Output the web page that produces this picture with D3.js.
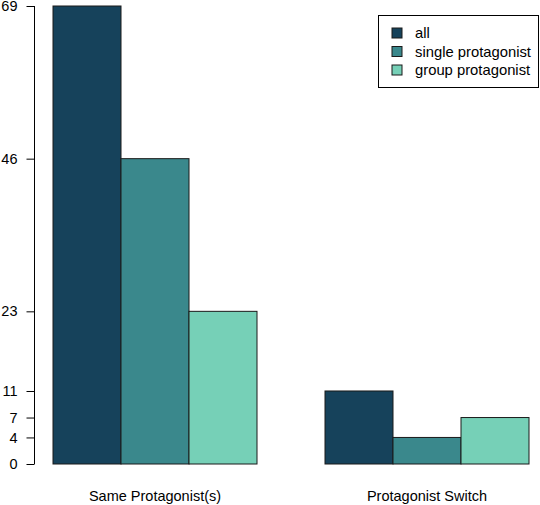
<!DOCTYPE html>
<html><head><meta charset="utf-8">
<script src="https://cdn.jsdelivr.net/npm/d3@7"></script>
<style>body{margin:0;background:#fff}svg{display:block}text{font-family:"Liberation Sans",Arial,sans-serif}</style>
</head><body>
<script>
const categories = ["Same Protagonist(s)", "Protagonist Switch"];
const series = ["all", "single protagonist", "group protagonist"];
const allValues = [69, 11];
const singleValues = [46, 4];
const groupValues = [23, 7];
const yTicks = [0, 4, 7, 11, 23, 46, 69];
const colors = ["#16425b", "#3a888c", "#76d0b7"];

const W = 540, H = 505;
const FS = 14.5;
const svg = d3.select("body").append("svg").attr("width", W).attr("height", H);
const y = d3.scaleLinear().domain([0, 69]).range([464, 6]);
const x = d3.scaleLinear().domain([0, 1]).range([53, 121]);
const valuesBySeries = [allValues, singleValues, groupValues];

categories.forEach((c, gi) => {
  const start = gi * 4;
  valuesBySeries.forEach((vals, si) => {
    svg.append("rect")
      .attr("x", x(start + si)).attr("y", y(vals[gi]))
      .attr("width", x(start + si + 1) - x(start + si))
      .attr("height", y(0) - y(vals[gi]))
      .attr("fill", colors[si]).attr("stroke", "#1a1a1a").attr("stroke-width", 1);
  });
  svg.append("text").attr("x", x(start + 1.5)).attr("y", 501)
    .attr("text-anchor", "middle").attr("font-size", FS).attr("fill", "#000").text(c);
});

const axis = d3.axisLeft(y).tickValues(yTicks).tickSize(8).tickPadding(9).tickSizeOuter(0);
const g = svg.append("g").attr("transform", "translate(34.5,0)").call(axis);
g.selectAll("text").attr("font-size", FS).attr("fill", "#000").attr("font-family", "Liberation Sans, Arial, sans-serif");
g.selectAll("line,path").attr("stroke", "#000");
g.select(".domain").attr("d", `M0,${y(0)}V${y(69)}`);

const lg = svg.append("g");
lg.append("rect").attr("x", 378.5).attr("y", 15.5).attr("width", 160).attr("height", 72)
  .attr("fill", "#fff").attr("stroke", "#000").attr("stroke-width", 1);
series.forEach((s, i) => {
  const cy = 33 + i * 18.5;
  lg.append("rect").attr("x", 392).attr("y", cy - 5).attr("width", 10).attr("height", 10)
    .attr("fill", colors[i]).attr("stroke", "#1a1a1a");
  lg.append("text").attr("x", 415).attr("y", cy + 5).attr("font-size", 14.8).attr("fill", "#000").text(s);
});
</script>
</body></html>
